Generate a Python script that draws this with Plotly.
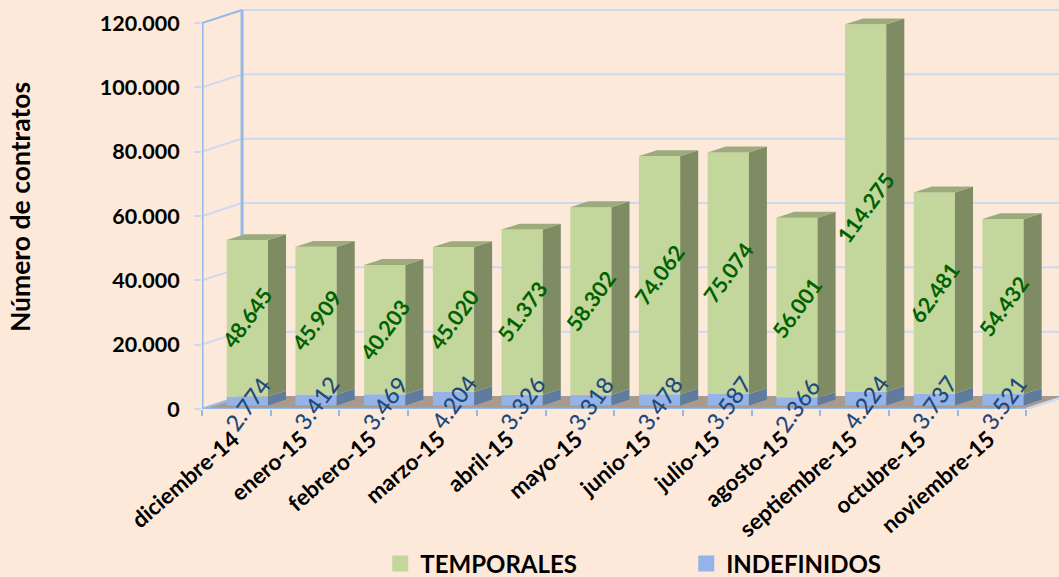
import plotly.graph_objects as go

# Data
meses = ["diciembre-14", "enero-15", "febrero-15", "marzo-15", "abril-15", "mayo-15", "junio-15",
         "julio-15", "agosto-15", "septiembre-15", "octubre-15", "noviembre-15"]
temporales = [48645, 45909, 40203, 45020, 51373, 58302, 74062, 75074, 56001, 114275, 62481, 54432]
indefinidos = [2774, 3412, 3469, 4204, 3326, 3318, 3478, 3587, 2366, 4224, 3737, 3521]
y_ticks = [0, 20000, 40000, 60000, 80000, 100000, 120000]
y_labels = ["0", "20.000", "40.000", "60.000", "80.000", "100.000", "120.000"]

# Fake 3D: full floor depth expressed in axis units (category, contratos)
DEPTH_X = 0.583
DEPTH_Y = 4041
FRONT = 0.275
BAR_DEPTH = 0.45
BAR_W = 0.6
UNITS_PX = 120000 / 386

base_y = FRONT * DEPTH_Y
cx = [i + FRONT * DEPTH_X for i in range(len(meses))]


def side_face(i, low, high):
    x1 = cx[i] + BAR_W / 2
    dx = BAR_DEPTH * DEPTH_X
    dy = BAR_DEPTH * DEPTH_Y
    return [x1, x1 + dx, x1 + dx, x1, x1, None], [low, low + dy, high + dy, high, low, None]


def top_face(i, high):
    x0 = cx[i] - BAR_W / 2
    x1 = cx[i] + BAR_W / 2
    dx = BAR_DEPTH * DEPTH_X
    dy = BAR_DEPTH * DEPTH_Y
    return [x0, x1, x1 + dx, x0 + dx, x0, None], [high, high, high + dy, high + dy, high, None]


side_g_x, side_g_y, top_x, top_y, side_b_x, side_b_y = [], [], [], [], [], []
for i in range(len(meses)):
    mid = base_y + indefinidos[i]
    top = mid + temporales[i]
    a, b = side_face(i, base_y, mid)
    side_b_x += a
    side_b_y += b
    a, b = side_face(i, mid, top)
    side_g_x += a
    side_g_y += b
    a, b = top_face(i, top)
    top_x += a
    top_y += b

x_start = -0.5
x_end = x_start + (1059 - 202) / 68.7
x_front_end = x_start + len(meses)

fig = go.Figure()

# Front faces
fig.add_bar(x=cx, y=indefinidos, base=[base_y] * len(meses), width=BAR_W,
            marker=dict(color="#95B3E7", line=dict(width=0)), showlegend=False, hoverinfo="skip")
fig.add_bar(x=cx, y=temporales, base=[base_y + v for v in indefinidos], width=BAR_W,
            marker=dict(color="#C3D69B", line=dict(width=0)), showlegend=False, hoverinfo="skip")

# Side and top faces
fig.add_scatter(x=side_b_x, y=side_b_y, mode="lines", fill="toself", fillcolor="#5F7C9E",
                line=dict(width=0), showlegend=False, hoverinfo="skip")
fig.add_scatter(x=side_g_x, y=side_g_y, mode="lines", fill="toself", fillcolor="#7F8C63",
                line=dict(width=0), showlegend=False, hoverinfo="skip")
fig.add_scatter(x=top_x, y=top_y, mode="lines", fill="toself", fillcolor="#9CAB7C",
                line=dict(width=0), showlegend=False, hoverinfo="skip")

# Legend entries
fig.add_scatter(x=[None], y=[None], mode="markers", name="TEMPORALES",
                marker=dict(symbol="square", size=16, color="#C3D69B"))
fig.add_scatter(x=[None], y=[None], mode="markers", name="INDEFINIDOS",
                marker=dict(symbol="square", size=16, color="#95B3E7"))

# Floor and walls go under the bars
GRID = "#CCD9F0"
AXIS = "#95B9E6"
shapes = [dict(type="path", layer="below", line=dict(width=0), fillcolor="#A89A8C",
               path=f"M {x_start},0 L {x_front_end},0 L {x_front_end + DEPTH_X},{DEPTH_Y} "
                    f"L {x_start + DEPTH_X},{DEPTH_Y} Z")]
for t in y_ticks[1:]:
    shapes.append(dict(type="line", layer="below", line=dict(color=AXIS if t == 120000 else GRID, width=2),
                       x0=x_start, y0=t, x1=x_start + DEPTH_X, y1=t + DEPTH_Y))
    shapes.append(dict(type="line", layer="below", line=dict(color=GRID, width=2),
                       x0=x_start + DEPTH_X, y0=t + DEPTH_Y, x1=x_end, y1=t + DEPTH_Y))
shapes.append(dict(type="line", layer="below", line=dict(color=AXIS, width=3),
                   x0=x_start + DEPTH_X, y0=DEPTH_Y, x1=x_start + DEPTH_X, y1=120000 + DEPTH_Y))
shapes.append(dict(type="line", layer="below", line=dict(color=AXIS, width=2.5),
                   x0=x_start, y0=0, x1=x_start + DEPTH_X, y1=DEPTH_Y))
shapes.append(dict(type="line", layer="below", line=dict(color=AXIS, width=3),
                   x0=x_start, y0=120000, x1=x_start, y1=0))
shapes.append(dict(type="line", layer="above", line=dict(color=AXIS, width=2.5),
                   x0=x_start, y0=0, x1=x_front_end, y1=0))
shapes.append(dict(type="line", layer="below", line=dict(color=GRID, width=2.5),
                   x0=x_front_end, y0=0, x1=x_front_end + DEPTH_X, y1=DEPTH_Y))

# Rotated value labels
annotations = []
for i in range(len(meses)):
    annotations.append(dict(x=cx[i], y=base_y + indefinidos[i] / 2, text=f"{indefinidos[i]:,}".replace(",", "."),
                            textangle=-54, showarrow=False, xref="x", yref="y", yshift=-3,
                            font=dict(family="Lato", size=23, color="#1F497D", weight=500)))
    annotations.append(dict(x=cx[i], y=base_y + indefinidos[i] + temporales[i] / 2,
                            text=f"{temporales[i]:,}".replace(",", "."),
                            textangle=-54, showarrow=False, xref="x", yref="y",
                            font=dict(family="Lato", size=21.5, color="#006100", weight="bold")))

fig.update_layout(
    width=1059, height=577,
    margin=dict(l=202, r=0, t=5, b=168, autoexpand=False),
    paper_bgcolor="#FDE9D9", plot_bgcolor="#FDE9D9",
    barmode="overlay",
    font=dict(family="Lato", color="black"),
    shapes=shapes,
    annotations=annotations,
    legend=dict(orientation="h", x=0.208, xanchor="left", y=0.0225, yref="container", yanchor="middle",
                entrywidth=261, entrywidthmode="pixels", bgcolor="rgba(0,0,0,0)",
                font=dict(family="Lato", size=24, weight="bold"), traceorder="normal"),
    xaxis=dict(range=[x_start, x_end], tickmode="array", tickvals=list(range(len(meses))), ticktext=meses,
               tickangle=-41, showgrid=False, zeroline=False, showline=False, ticks="",
               ticklabelstandoff=12, ticklabelshift=-3,
               tickfont=dict(family="Lato", size=22.5, weight="bold"),
               minor=dict(tickmode="array", tickvals=[i - 0.5 for i in range(len(meses) + 1)],
                          ticks="outside", ticklen=6, tickcolor=AXIS, tickwidth=1.5, showgrid=False)),
    yaxis=dict(range=[0, 404 * UNITS_PX], tickmode="array", tickvals=y_ticks, ticktext=y_labels,
               showgrid=False, zeroline=False, showline=False, ticks="outside", ticklen=7,
               tickcolor=GRID, tickwidth=1.5, ticklabelstandoff=10,
               tickfont=dict(family="Lato", size=21.5, weight="bold"),
               title=dict(text="Número de contratos", standoff=61,
                          font=dict(family="Lato", size=26.5, weight="bold"))),
)

# the browser's default body margin would push the figure off the window
fig.write_html("out.html", config={"displayModeBar": False},
               post_script="document.body.style.margin = '0';")
